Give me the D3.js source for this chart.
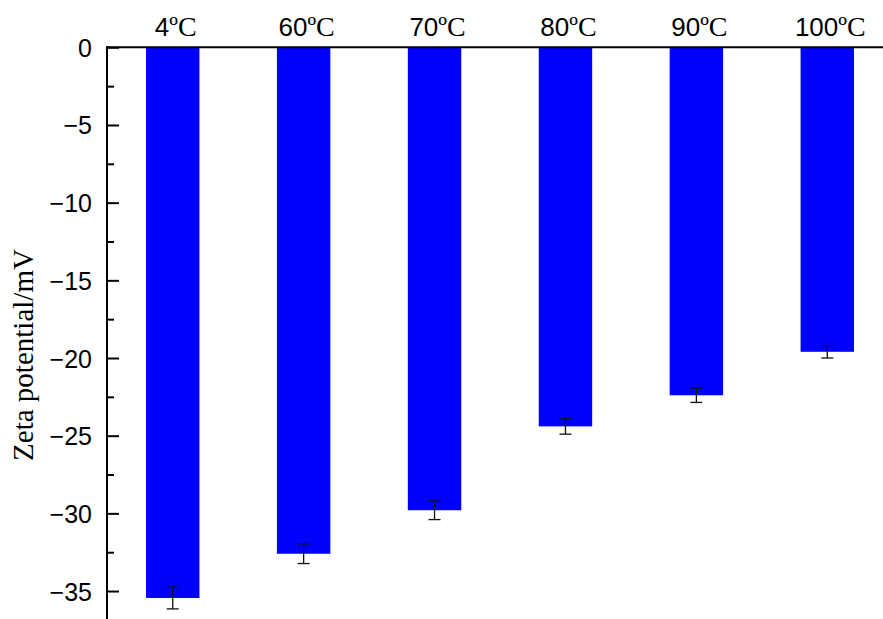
<html>
<head>
<meta charset="utf-8">
<script src="https://d3js.org/d3.v7.min.js"></script>
<style>
  body { margin: 0; background: #fff; }
</style>
</head>
<body>
<svg class="chart" width="883" height="619"></svg>
<script>

// data
const temps = ["4", "60", "70", "80", "90", "100"];
const zeta = [-35.45, -32.6, -29.8, -24.4, -22.4, -19.6];
const errs = [0.7, 0.63, 0.6, 0.5, 0.46, 0.4];
const yTicks = [0, -5, -10, -15, -20, -25, -30, -35];

const svg = d3.select(".chart");

let x = d3.scaleBand()
    .domain(temps)
    .range([107, 893])
    .paddingInner(0.592)
    .paddingOuter(0.298);

let y = d3.scaleLinear()
    .domain([0, -36.8])
    .range([47.3, 619]);

// bars hang down from zero
svg.selectAll("rect.bar")
    .data(temps)
    .enter().append("rect")
      .attr("class", "bar")
      .attr("x", d => x(d))
      .attr("y", y(0))
      .attr("width", x.bandwidth())
      .attr("height", (d, i) => y(zeta[i]) - y(0))
      .attr("fill", "#0000ff");

// error bars
const eb = svg.selectAll("g.err")
    .data(temps)
    .enter().append("g")
      .attr("class", "err")
      .attr("stroke", "#111")
      .attr("stroke-width", 1.3);
const cx = d => x(d) + x.bandwidth() / 2;
eb.append("line")
    .attr("x1", cx).attr("x2", cx)
    .attr("y1", (d, i) => y(zeta[i] + errs[i]))
    .attr("y2", (d, i) => y(zeta[i] - errs[i]));
eb.append("line")
    .attr("x1", d => cx(d) - 6).attr("x2", d => cx(d) + 6)
    .attr("y1", (d, i) => y(zeta[i] + errs[i]))
    .attr("y2", (d, i) => y(zeta[i] + errs[i]));
eb.append("line")
    .attr("x1", d => cx(d) - 6).attr("x2", d => cx(d) + 6)
    .attr("y1", (d, i) => y(zeta[i] - errs[i]))
    .attr("y2", (d, i) => y(zeta[i] - errs[i]));

// minor ticks
svg.append("g")
    .attr("transform", "translate(107,0)")
    .call(d3.axisRight(y).tickValues(d3.range(-2.5, -36, -5)).tickSize(7).tickFormat(""))
    .call(g => g.select(".domain").remove())
    .call(g => g.selectAll("line").attr("stroke", "#000").attr("stroke-width", 2));

// major ticks pointing inward, labels on the left
const yAxis = svg.append("g")
    .attr("transform", "translate(107,0)")
    .call(d3.axisRight(y).tickValues(yTicks).tickSize(12).tickFormat(d3.format("d")));
yAxis.select(".domain").remove();
yAxis.selectAll("line").attr("stroke", "#000").attr("stroke-width", 2);
yAxis.selectAll("text")
    .attr("x", -15)
    .attr("text-anchor", "end")
    .attr("dy", "0.36em")
    .attr("font-family", "Liberation Sans, Arial, sans-serif")
    .attr("font-size", 25)
    .attr("fill", "#000");

// axis lines
svg.append("line")
    .attr("x1", 107).attr("x2", 107)
    .attr("y1", y(0) - 1).attr("y2", 619)
    .attr("stroke", "#000").attr("stroke-width", 2);
svg.append("line")
    .attr("x1", 106).attr("x2", 883)
    .attr("y1", y(0)).attr("y2", y(0))
    .attr("stroke", "#000").attr("stroke-width", 2);

// category labels on top
const lab = svg.selectAll("text.cat")
    .data(temps)
    .enter().append("text")
      .attr("class", "cat")
      .attr("x", d => cx(d) + 3)
      .attr("y", 36)
      .attr("text-anchor", "middle")
      .attr("fill", "#000");
lab.append("tspan")
    .attr("font-family", "Liberation Sans, Arial, sans-serif")
    .attr("font-size", 26)
    .text(d => d);
lab.append("tspan")
    .attr("font-family", "Liberation Serif, Times New Roman, serif")
    .attr("font-size", 28)
    .text("ºC");

// y title
svg.append("text")
    .attr("transform", "translate(33,355) rotate(-90)")
    .attr("text-anchor", "middle")
    .attr("font-family", "Liberation Serif, Times New Roman, serif")
    .attr("font-size", 29)
    .attr("fill", "#000")
    .text("Zeta potential/mV");

</script>
</body>
</html>
